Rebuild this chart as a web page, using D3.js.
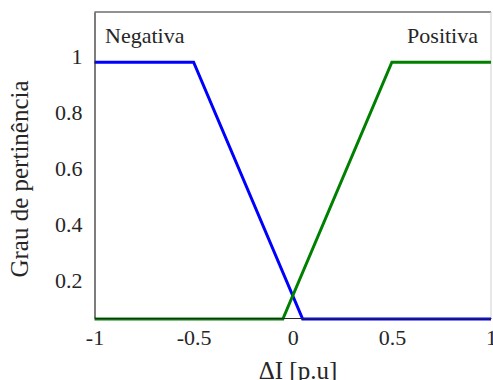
<!DOCTYPE html>
<html>
<head>
  <meta charset="utf-8">
  <script src="https://cdn.jsdelivr.net/npm/d3@7"></script>
  <style>
    body { margin: 0; background: #fff; }
  </style>
</head>
<body>
<script>
  // data
  const negX = [-1, -0.5, 0.05, 1];
  const negY = [0.98, 0.98, 0.06, 0.06];
  const posX = [-1, -0.05, 0.5, 1];
  const posY = [0.06, 0.06, 0.98, 0.98];
  const xTicks = [-1, -0.5, 0, 0.5, 1];
  const xTickLabels = ["-1", "-0.5", "0", "0.5", "1"];
  const yTicks = [0.2, 0.4, 0.6, 0.8, 1];
  const yTickLabels = ["0.2", "0.4", "0.6", "0.8", "1"];

  const w = 493, h = 380;
  const padLeft = 94.5, padRight = 491, padTop = 12, padBottom = 318;
  const serif = "'Liberation Serif', 'Times New Roman', 'DejaVu Serif', serif";
  const ink = "#262626";

  const xScale = d3.scaleLinear().domain([-1, 1]).range([padLeft, padRight]);
  const yScale = d3.scaleLinear().domain([0.064, 1.16]).range([padBottom, padTop]);

  const svg = d3.select("body").append("svg")
    .attr("width", w)
    .attr("height", h);

  // kasse
  svg.append("line")
    .attr("x1", padLeft).attr("x2", padRight)
    .attr("y1", padTop).attr("y2", padTop)
    .attr("stroke", ink).attr("stroke-width", 1.2);
  svg.append("line")
    .attr("x1", padRight).attr("x2", padRight)
    .attr("y1", padTop).attr("y2", padBottom)
    .attr("stroke", "#d0d0d0").attr("stroke-width", 1);

  // linjer
  const line = d3.line()
    .x(d => xScale(d[0]))
    .y(d => yScale(d[1]));

  svg.append("path")
    .datum(d3.zip(negX, negY))
    .attr("d", line)
    .attr("fill", "none")
    .attr("stroke", "#0000ff")
    .attr("stroke-width", 3);

  svg.append("path")
    .datum(d3.zip(posX, posY))
    .attr("d", line)
    .attr("fill", "none")
    .attr("stroke", "#008000")
    .attr("stroke-width", 3);

  // x-akse
  const xAxis = d3.axisBottom(xScale)
    .tickValues(xTicks)
    .tickSize(0)
    .tickPadding(11)
    .tickFormat((d, i) => xTickLabels[i]);
  const gx = svg.append("g")
    .attr("transform", "translate(0," + padBottom + ")")
    .call(xAxis);
  gx.select(".domain").attr("stroke", ink).attr("stroke-width", 1.2);
  gx.selectAll("text")
    .style("font-family", serif)
    .style("font-size", "22px")
    .attr("fill", ink);

  // y-akse
  const yAxis = d3.axisLeft(yScale)
    .tickValues(yTicks)
    .tickSize(0)
    .tickPadding(12)
    .tickFormat((d, i) => yTickLabels[i]);
  const gy = svg.append("g")
    .attr("transform", "translate(" + padLeft + ",0)")
    .call(yAxis);
  gy.select(".domain").attr("stroke", ink).attr("stroke-width", 1.2);
  gy.selectAll("text")
    .style("font-family", serif)
    .style("font-size", "22px")
    .attr("fill", ink);

  // labels
  svg.append("text")
    .attr("x", 105).attr("y", 43)
    .style("font-family", serif)
    .style("font-size", "22px")
    .attr("fill", ink)
    .text("Negativa");
  svg.append("text")
    .attr("x", 478).attr("y", 43)
    .attr("text-anchor", "end")
    .style("font-family", serif)
    .style("font-size", "22px")
    .attr("fill", ink)
    .text("Positiva");

  svg.append("text")
    .attr("x", 298).attr("y", 379)
    .attr("text-anchor", "middle")
    .style("font-family", serif)
    .style("font-size", "25px")
    .attr("fill", ink)
    .text("ΔI [p.u]");

  svg.append("text")
    .attr("transform", "translate(28,179) rotate(-90)")
    .attr("text-anchor", "middle")
    .style("font-family", serif)
    .style("font-size", "25px")
    .attr("fill", ink)
    .text("Grau de pertinência");
</script>
</body>
</html>
